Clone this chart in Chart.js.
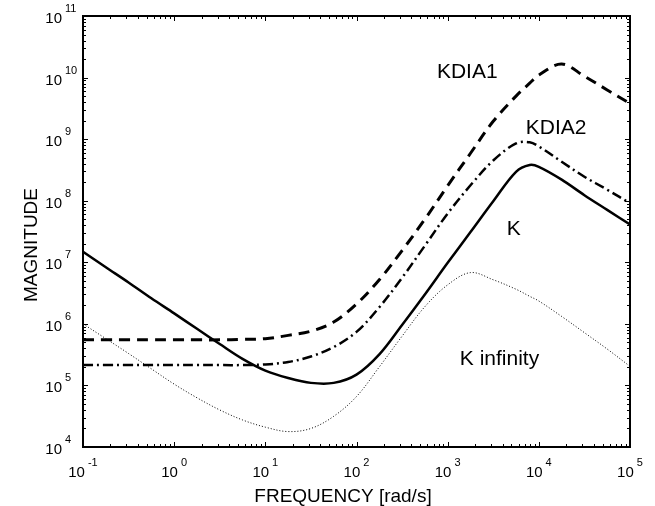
<!DOCTYPE html>
<html>
<head>
<meta charset="utf-8">
<script src="https://cdn.jsdelivr.net/npm/chart.js@4/dist/chart.umd.min.js"></script>
<style>
  body { margin: 0; background: #fff; }
  #wrap { width: 655px; height: 506px; }
</style>
</head>
<body>
<div id="wrap"><canvas id="magChart" width="655" height="506"></canvas></div>
<script>
// frequency points [rad/s], quarter decades (+ one near the peaks)
const freq = [0.1, 0.178, 0.316, 0.562, 1, 1.78, 3.16, 5.62, 10, 17.8, 31.6, 56.2,
  100, 178, 316, 562, 1000, 1780, 3160, 5620, 7940, 10000, 17800, 31600, 56200, 100000];

// magnitudes
const kMag = [1.48e7, 8.3e6, 4.7e6, 2.6e6, 1.48e6, 8.3e5, 4.7e5, 2.7e5, 1.74e5, 1.32e5, 1.1e5, 1.1e5,
  1.5e5, 3.2e5, 9.6e5, 3.0e6, 9.8e6, 3.1e7, 9.8e7, 2.95e8, 3.8e8, 3.55e8, 2.2e8, 1.23e8, 7.1e7, 4.1e7];
const kdia1Mag = [5.5e5, 5.5e5, 5.5e5, 5.5e5, 5.5e5, 5.5e5, 5.5e5, 5.6e5, 5.75e5, 6.5e5, 7.6e5, 1.07e6,
  2.1e6, 5.2e6, 1.55e7, 5.0e7, 1.75e8, 5.9e8, 1.95e9, 5.0e9, 8.1e9, 1.1e10, 1.66e10, 1.05e10, 6.3e9, 3.8e9];
const kdia2Mag = [2.14e5, 2.14e5, 2.14e5, 2.14e5, 2.14e5, 2.14e5, 2.14e5, 2.14e5, 2.19e5, 2.4e5, 2.95e5, 4.2e5,
  7.4e5, 1.86e6, 5.6e6, 1.86e7, 6.2e7, 1.78e8, 4.5e8, 8.5e8, 8.9e8, 7.6e8, 4.3e8, 2.45e8, 1.51e8, 9.1e7];
const kInfMag = [1.0e6, 5.75e5, 3.3e5, 1.86e5, 1.05e5, 6.3e4, 4.0e4, 2.75e4, 2.1e4, 1.78e4, 2.0e4, 3.15e4,
  6.6e4, 2.0e5, 6.3e5, 1.9e6, 4.3e6, 6.8e6, 5.2e6, 3.65e6, 2.8e6, 2.35e6, 1.32e6, 7.2e5, 3.9e5, 2.04e5];

const xExps = [-1, 0, 1, 2, 3, 4, 5];
const yExps = [4, 5, 6, 7, 8, 9, 10, 11];

// curve labels, anchored in data coordinates (left edge, baseline)
const curveLabels = ["KDIA1", "KDIA2", "K", "K infinity"];
const labelX = [762, 7200, 4460, 1360];
const labelY = [9.8e9, 1.2e9, 2.8e7, 2.16e5];

const FONT = "'Liberation Sans', Arial, sans-serif";

function pts(vals) {
  return freq.map((f, i) => ({ x: f, y: vals[i] }));
}

const frame = {
  id: "frame",
  beforeDraw(chart) {
    const c = chart.ctx;
    c.save();
    c.fillStyle = "#fff";
    c.fillRect(0, 0, chart.width, chart.height);
    c.restore();
  },
  afterDatasetsDraw(chart) {
    const c = chart.ctx;
    const a = chart.chartArea;
    const xs = chart.scales.x, ys = chart.scales.y;
    c.save();
    c.strokeStyle = "#000";
    c.fillStyle = "#000";

    // ticks, all four sides, pointing in
    c.lineWidth = 1;
    c.beginPath();
    for (let e = -1; e < 5; e++) {
      for (let m = 1; m < 10; m++) {
        const px = Math.round(xs.getPixelForValue(m * Math.pow(10, e))) + 0.5;
        const len = m === 1 ? 5 : 3;
        c.moveTo(px, a.bottom); c.lineTo(px, a.bottom - len);
        c.moveTo(px, a.top); c.lineTo(px, a.top + len);
      }
    }
    for (let e = 4; e < 11; e++) {
      for (let m = 1; m < 10; m++) {
        const py = Math.round(ys.getPixelForValue(m * Math.pow(10, e))) + 0.5;
        const len = m === 1 ? 5 : 3;
        c.moveTo(a.left, py); c.lineTo(a.left + len, py);
        c.moveTo(a.right, py); c.lineTo(a.right - len, py);
      }
    }
    c.stroke();

    c.lineWidth = 2;
    c.strokeRect(a.left, a.top, a.right - a.left, a.bottom - a.top);

    // tick labels 10^n
    c.textBaseline = "alphabetic";
    xExps.forEach(e => {
      const px = xs.getPixelForValue(Math.pow(10, e));
      c.font = "15px " + FONT;
      const w1 = c.measureText("10").width;
      c.font = "11px " + FONT;
      const w2 = c.measureText(String(e)).width;
      const x0 = px - (w1 + 3 + w2) / 2;
      c.font = "15px " + FONT;
      c.textAlign = "left";
      c.fillText("10", x0, a.bottom + 30);
      c.font = "11px " + FONT;
      c.fillText(String(e), x0 + w1 + 3, a.bottom + 19);
    });
    yExps.forEach(e => {
      const py = ys.getPixelForValue(Math.pow(10, e));
      c.font = "15px " + FONT;
      c.textAlign = "right";
      c.fillText("10", a.left - 21, py + 7);
      c.font = "11px " + FONT;
      c.textAlign = "left";
      c.fillText(String(e), a.left - 18, py - 4);
    });

    // axis titles
    c.font = "19px " + FONT;
    c.textAlign = "center";
    c.fillText("FREQUENCY [rad/s]", 343, chart.height - 4);
    c.save();
    c.translate(37, 245);
    c.rotate(-Math.PI / 2);
    c.fillText("MAGNITUDE", 0, 0);
    c.restore();

    // curve labels
    c.font = "21px " + FONT;
    c.textAlign = "left";
    curveLabels.forEach((t, i) => {
      c.fillText(t, xs.getPixelForValue(labelX[i]), ys.getPixelForValue(labelY[i]));
    });
    c.restore();
  }
};

new Chart(document.getElementById("magChart").getContext("2d"), {
  type: "line",
  data: {
    datasets: [
      { label: "K", data: pts(kMag), borderColor: "#000", borderWidth: 2.5 },
      { label: "KDIA1", data: pts(kdia1Mag), borderColor: "#000", borderWidth: 3, borderDash: [11, 7] },
      { label: "KDIA2", data: pts(kdia2Mag), borderColor: "#000", borderWidth: 2.5, borderDash: [10, 4, 2, 4] },
      { label: "K infinity", data: pts(kInfMag), borderColor: "#000", borderWidth: 1, borderDash: [1, 2] }
    ]
  },
  options: {
    responsive: false,
    animation: false,
    devicePixelRatio: 1,
    elements: { point: { radius: 0 }, line: { tension: 0.35, fill: false } },
    layout: { padding: { left: 0, right: 25, top: 16, bottom: 0 } },
    plugins: { legend: { display: false }, tooltip: { enabled: false } },
    scales: {
      x: {
        type: "logarithmic", min: 0.1, max: 1e5,
        ticks: { display: false }, grid: { display: false }, border: { display: false },
        afterFit(s) { s.height = 59; }
      },
      y: {
        type: "logarithmic", min: 1e4, max: 1e11,
        ticks: { display: false }, grid: { display: false }, border: { display: false },
        afterFit(s) { s.width = 83; }
      }
    }
  },
  plugins: [frame]
});
</script>
</body>
</html>
